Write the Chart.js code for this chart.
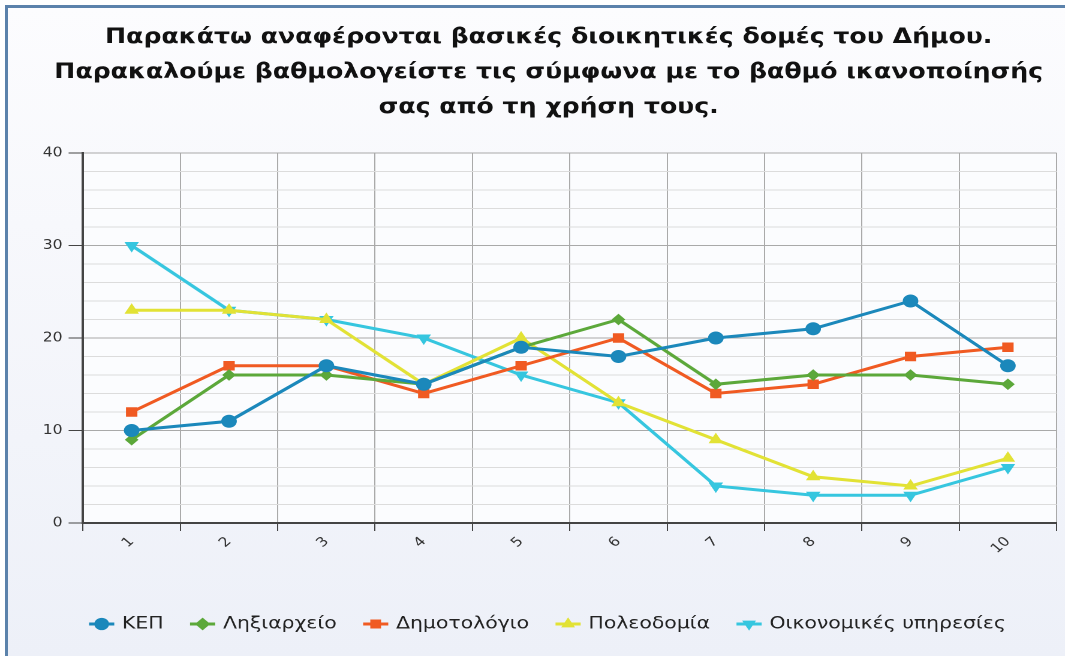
<!DOCTYPE html>
<html>
<head>
<meta charset="utf-8">
<script src="https://cdn.jsdelivr.net/npm/chart.js@4.4.1/dist/chart.umd.min.js"></script>
<style>
  html, body { margin: 0; padding: 0; background: #fff; overflow: hidden; }
  #frame {
    position: absolute; left: 5px; top: 5px; width: 1057px; height: 648px;
    border-left: 3px solid #5b82ab; border-top: 3px solid #5b82ab;
    background: linear-gradient(#fcfcfe, #edf0f8);
  }
  /* the reference is stretched sideways, so the chart is drawn narrower and widened */
  #wrap {
    position: absolute; left: 0; top: 0; width: 888px; height: 656px;
    transform: scaleX(1.1993); transform-origin: 0 0;
  }
</style>
</head>
<body>
<div id="frame"></div>
<div id="wrap"><canvas id="c"></canvas></div>
<script>
const TITLE = [
    "Παρακάτω αναφέρονται βασικές διοικητικές δομές του Δήμου.",
    "Παρακαλούμε βαθμολογείστε τις σύμφωνα με το βαθμό ικανοποίησής",
    "σας από τη χρήση τους."
];
const CATEGORIES = ['1', '2', '3', '4', '5', '6', '7', '8', '9', '10'];
const SERIES_NAMES = ['ΚΕΠ', 'Ληξιαρχείο', 'Δημοτολόγιο', 'Πολεοδομία', 'Οικονομικές υπηρεσίες'];

const KEP = [10, 11, 17, 15, 19, 18, 20, 21, 24, 17];
const LIXIARXEIO = [9, 16, 16, 15, 19, 22, 15, 16, 16, 15];
const DIMOTOLOGIO = [12, 17, 17, 14, 17, 20, 14, 15, 18, 19];
const POLEODOMIA = [23, 23, 22, 15, 20, 13, 9, 5, 4, 7];
const OIKONOMIKES = [30, 23, 22, 20, 16, 13, 4, 3, 3, 6];

const Y_MIN = 0, Y_MAX = 40, Y_STEP = 2, Y_MAJOR = 10;

const COLORS = ['#1b88bb', '#5ca83a', '#f05a22', '#e2e235', '#36c6df'];

function series(i, data, style, radius, rotation) {
    return {
        label: SERIES_NAMES[i],
        data,
        borderColor: COLORS[i],
        backgroundColor: COLORS[i],
        borderWidth: 3,
        pointStyle: style,
        pointRadius: radius,
        pointRotation: rotation || 0,
        pointBorderWidth: 1,
        tension: 0,
    };
}

// white plot background + short line through each legend marker
const decor = {
    id: 'decor',
    beforeDraw(chart) {
        const { ctx, chartArea: a, legend } = chart;
        ctx.save();
        ctx.fillStyle = '#fbfcfe';
        ctx.fillRect(a.left, a.top, a.right - a.left, a.bottom - a.top);
        if (legend && legend.legendHitBoxes) {
            const bw = legend.options.labels.font.size;
            legend.legendHitBoxes.forEach((hb, i) => {
                const y = hb.top + hb.height / 2;
                ctx.strokeStyle = COLORS[i];
                ctx.lineWidth = 3;
                ctx.beginPath();
                ctx.moveTo(hb.left - 2, y);
                ctx.lineTo(hb.left + bw + 2, y);
                ctx.stroke();
            });
        }
        ctx.restore();
    }
};

new Chart(document.getElementById('c'), {
    type: 'line',
    data: {
        labels: CATEGORIES,
        datasets: [
            series(0, KEP, 'circle', 6),
            series(1, LIXIARXEIO, 'rectRot', 5),
            series(2, DIMOTOLOGIO, 'rect', 6),
            series(3, POLEODOMIA, 'triangle', 6),
            series(4, OIKONOMIKES, 'triangle', 6, 180),
        ]
    },
    options: {
        responsive: true,
        maintainAspectRatio: false,
        animation: false,
        devicePixelRatio: 2,
        layout: { padding: { top: 0, left: 34, right: 7, bottom: 13.5 } },
        plugins: {
            title: {
                display: true,
                text: TITLE,
                color: '#111',
                font: { family: 'DejaVu Sans', size: 21, weight: 'bold', lineHeight: 1.667 },
                padding: { top: 20, bottom: 28 },
            },
            legend: {
                position: 'bottom',
                labels: {
                    usePointStyle: true,
                    boxHeight: 8,
                    color: '#222',
                    padding: 24,
                    font: { family: 'DejaVu Sans', size: 17 },
                }
            },
            tooltip: { enabled: false },
        },
        scales: {
            x: {
                offset: true,
                afterFit(scale) { scale.height = 68.5; },
                grid: {
                    offset: true,
                    color: '#aaaaaa',
                    tickColor: '#444',
                    tickLength: 8,
                },
                border: { color: '#444', width: 2 },
                ticks: {
                    minRotation: 45,
                    maxRotation: 45,
                    color: '#333',
                    font: { family: 'DejaVu Sans', size: 13 },
                }
            },
            y: {
                min: Y_MIN,
                max: Y_MAX,
                afterFit(scale) { scale.width = 35.2; },
                grid: {
                    color: (c) => c.tick.value % Y_MAJOR === 0 ? '#a9a9a9' : '#dcdcdc',
                    tickColor: (c) => c.tick.value % Y_MAJOR === 0 ? '#444' : 'rgba(0,0,0,0)',
                    tickLength: 12,
                },
                border: { color: '#444', width: 2 },
                ticks: {
                    stepSize: Y_STEP,
                    autoSkip: false,
                    padding: 5,
                    color: '#333',
                    font: { family: 'DejaVu Sans', size: 13 },
                    callback: (v) => v % Y_MAJOR === 0 ? v : '',
                }
            }
        }
    },
    plugins: [decor]
});
</script>
</body>
</html>
